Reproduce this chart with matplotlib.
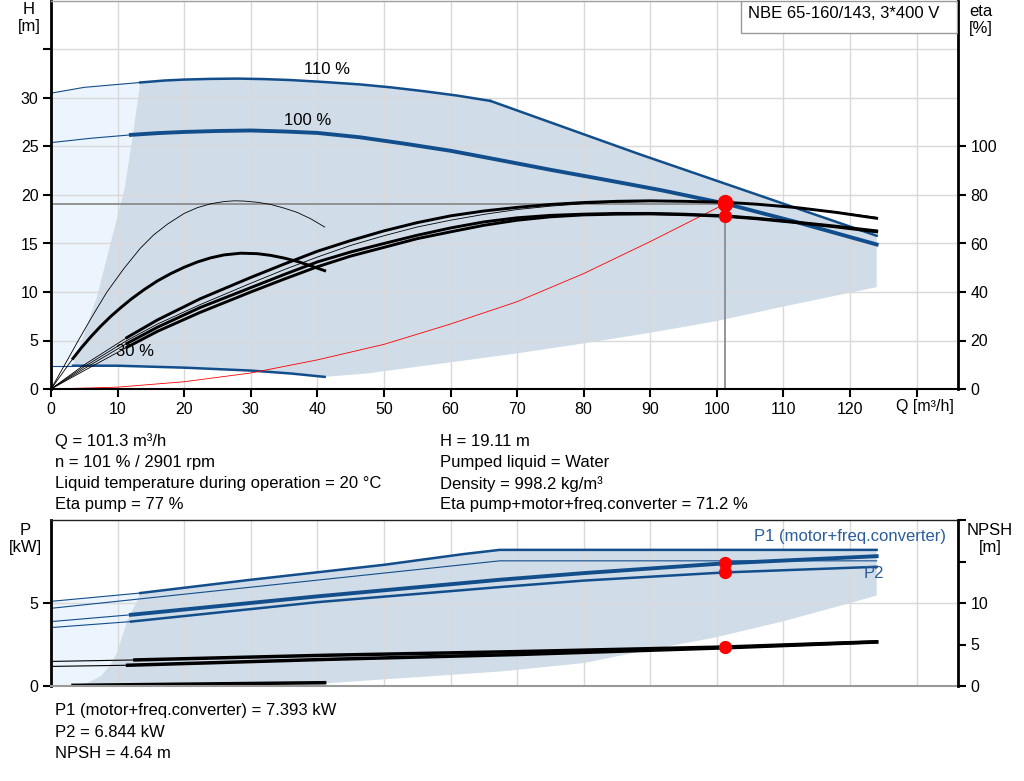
import matplotlib
matplotlib.use("Agg")
import matplotlib.pyplot as plt
import numpy as np
from matplotlib.patches import Rectangle

plt.rcParams["font.family"] = ["Liberation Sans", "DejaVu Sans"]
plt.rcParams["font.size"] = 12

BLUE = "#124e8b"
TXTBLUE = "#2a5d9a"
FILL = "#d0dce8"
LIGHT = "#ecf4fd"
GRID = "#d9d9d9"
RED = "#ff0000"
FS = 12      # info text
TFS = 11.5   # tick labels

# ---- Q/H panel data (Q in m3/h, H in m, eta in %) ----
q110_thin = [0, 5, 13.4]
h110_thin = [30.5, 31.1, 31.6]
q110 = [13.4, 17, 20, 24, 28, 32, 36, 41, 46.4, 51, 56, 61, 66]
h110 = [31.6, 31.8, 31.9, 31.97, 32.0, 31.95, 31.85, 31.65, 31.4, 31.1, 30.7, 30.25, 29.7]
q_lim = [66, 88.4, 124]
h_lim = [29.7, 24.2, 15.8]

q100_thin = [0, 6, 12]
h100_thin = [25.4, 25.85, 26.2]
q100 = [12, 16, 20, 25, 30, 35, 40, 46.4, 53, 60, 67.4, 75, 83, 91.6, 101.3, 112, 124]
h100 = [26.2, 26.38, 26.5, 26.6, 26.65, 26.55, 26.4, 25.95, 25.3, 24.56, 23.6, 22.6,
        21.6, 20.5, 19.11, 17.2, 14.9]

q30_thin = [0, 3.3]
h30_thin = [2.4, 2.4]
q30 = [3.3, 10, 20, 30, 36, 41.1]
h30 = [2.4, 2.4, 2.2, 1.9, 1.6, 1.25]

# edges of the operating area
q_left = [3.3, 6.9, 9.3, 11, 12.1, 13.4]
h_left = [2.4, 9.5, 16, 20.5, 25.3, 31.6]
q_low = [41.1, 47.5, 55, 60, 70, 80, 90, 100, 110, 124]
h_low = [1.25, 1.6, 2.3, 2.75, 3.67, 4.7, 5.8, 7.0, 8.5, 10.5]

# system curve
q_sys = [0, 10, 20, 30, 40, 50, 60, 70, 80, 90, 101.3]
h_sys = [0, 0.19, 0.75, 1.65, 3.0, 4.6, 6.7, 9.0, 11.9, 15.2, 19.11]

# efficiency curves
q_e1 = [0, 1.9, 4.1, 6.2, 8.4, 10.9, 13.4, 15.4, 17.5, 20, 22, 24, 26, 27.5, 29, 31, 33,
        35, 37, 39, 41.1]
eta_e1 = [0, 9.2, 20, 30, 40, 49.5, 58, 63.5, 68, 72.4, 74.8, 76.4, 77.3, 77.6, 77.5,
          77.0, 76.1, 74.6, 72.8, 70.2, 66.8]
q_e2_thin = [0, 3.3]
eta_e2_thin = [0, 12.6]
q_e2 = [3.3, 4.5, 6, 7.5, 9, 10.5, 12.1, 14, 16, 18, 20, 22, 24, 26, 28.5, 31, 33, 35,
        37, 39, 41.1]
eta_e2 = [12.6, 16.8, 21.6, 26, 30, 33.6, 37.2, 41, 44.6, 47.6, 50.2, 52.4, 54.1, 55.3,
          56, 55.8, 55.1, 54, 52.6, 50.8, 48.8]

q_bt = [0, 5, 11.4]
q_bk = [11.4, 16, 22.4, 30, 35, 40, 45, 50, 55, 60, 65, 70, 75, 80, 85, 90, 95, 101.3,
        106, 112, 118, 124]
eta_a_thin = [0, 10, 21.2]
eta_a = [21.2, 28.5, 37.2, 46, 51.5, 56.8, 61.2, 65.2, 68.6, 71.4, 73.4, 74.9, 76.1,
         76.9, 77.4, 77.6, 77.4, 77, 76.2, 74.8, 72.8, 70.4]
q_b = [0, 5, 11.4, 16, 22.4, 30, 35, 40, 45, 50, 55, 60, 65, 70, 75, 80, 85, 90, 95,
       101.3, 106, 112, 118, 124]
eta_b = [0, 9.2, 20, 26.8, 34.8, 43.6, 49.2, 54.4, 59.2, 63.2, 66.8, 69.6, 72.0, 74.0,
         75.4, 76.4, 77.0, 77.3, 77.3, 77.0, 76.3, 74.9, 73.0, 70.8]
eta_c_thin = [0, 8.4, 18.8]
eta_c = [18.8, 25.5, 33.6, 41.8, 47.2, 52.4, 56.5, 60, 63.4, 66.4, 68.9, 70.6, 71.6,
         72.1, 72.4, 72.4, 72.1, 71.4, 70.4, 68.8, 67.1, 65.2]
eta_d_thin = [0, 7.6, 17.2]
eta_d = [17.2, 23.8, 31.6, 40, 45.3, 50.4, 54.8, 58.4, 62, 64.8, 67.5, 69.6, 71, 71.8,
         72.1, 72.2, 71.9, 71.2, 70.2, 68.6, 66.8, 64.8]

Q_OP = 101.3
H_OP = 19.11
ETA_PUMP = 77
ETA_TOTAL = 71.2

# ---- power / NPSH panel data (P in kW, NPSH in m) ----
qp110_thin = [0, 13.4]
p1_110_thin = [5.1, 5.6]
qp110 = [13.4, 30, 50, 62, 67.4, 124]
p1_110 = [5.6, 6.4, 7.3, 7.95, 8.2, 8.2]
qp2_110 = [0, 67.4, 124]
p2_110 = [4.68, 7.54, 7.54]

qp_thin = [0, 12]
p1_100_thin = [3.88, 4.29]
p2_100_thin = [3.52, 3.88]
qp = [12, 40, 67.4, 80, 101.3, 124]
p1_100 = [4.29, 5.4, 6.4, 6.8, 7.393, 7.82]
p2_100 = [3.88, 5.05, 5.96, 6.35, 6.844, 7.18]

qp30 = [0, 41.1]
p_30 = [0.0, 0.22]
qp30k = [3.3, 41.1]
p_30k = [0.04, 0.2]

qn1_thin = [0, 12.6]
npsh1_thin = [2.96, 3.14]
qn2_thin = [0, 11.5]
npsh2_thin = [2.36, 2.5]
qn1 = [12.6, 41, 70.4, 101.3, 124]
npsh1 = [3.14, 3.7, 4.15, 4.7, 5.33]
qn2 = [11.5, 41, 70.4, 101.3, 124]
npsh2 = [2.5, 3.2, 3.8, 4.6, 5.3]

qp_left = [3.3, 5.5, 7.5, 8.8, 9.9, 11.5, 12.9, 13.4]
pp_left = [0.0, 0.2, 0.6, 1.2, 2.0, 4.0, 5.1, 5.6]
qp_low = [124, 119.5, 110, 99.5, 90, 80, 67.4, 50, 41.1, 41.1]
pp_low = [5.45, 4.94, 3.9, 2.9, 2.2, 1.38, 0.87, 0.4, 0.15, 0.0]

P1_OP = 7.393
P2_OP = 6.844
NPSH_OP = 4.64

info_left = ["Q = 101.3 m³/h", "n = 101 % / 2901 rpm",
             "Liquid temperature during operation = 20 °C", "Eta pump = 77 %"]
info_right = ["H = 19.11 m", "Pumped liquid = Water", "Density = 998.2 kg/m³",
              "Eta pump+motor+freq.converter = 71.2 %"]
info_bottom = ["P1 (motor+freq.converter) = 7.393 kW", "P2 = 6.844 kW", "NPSH = 4.64 m"]

W, H = 1024, 781


def fx(px):
    return px / W


def fy(py):
    return 1 - py / H


fig = plt.figure(figsize=(W / 100, H / 100), dpi=100)
XMAX = (958 - 51) / (799 / 120)

# ================= top panel =================
ax = fig.add_axes([fx(51), fy(389), fx(958) - fx(51), fy(1) - fy(389)])
ax.set_xlim(0, XMAX)
ax.set_ylim(0, 40)
ax.set_axisbelow(True)
ax.grid(True, color=GRID, lw=1)

light_x = q110_thin + q_left[::-1] + q30_thin[::-1]
light_y = h110_thin + h_left[::-1] + h30_thin[::-1]
ax.fill(light_x, light_y, color=LIGHT, lw=0, zorder=0.3)
dark_x = q_left + q110 + q_lim + [124] + q_low[::-1] + q30[::-1]
dark_y = h_left + h110 + h_lim + [10.5] + h_low[::-1] + h30[::-1]
ax.fill(dark_x, dark_y, color=FILL, lw=0, zorder=0.3)

ax.plot(q110_thin, h110_thin, color=BLUE, lw=0.8)
ax.plot(q110, h110, color=BLUE, lw=1.8)
ax.plot(q_lim, h_lim, color=BLUE, lw=1.8)
ax.plot(q100_thin, h100_thin, color=BLUE, lw=0.8)
ax.plot(q100, h100, color=BLUE, lw=2.8)
ax.plot(q30_thin, h30_thin, color=BLUE, lw=0.8)
ax.plot(q30, h30, color=BLUE, lw=1.8)
ax.plot(q_sys, h_sys, color=RED, lw=0.6)

ax.plot([0, Q_OP], [H_OP, H_OP], color="#8c8c8c", lw=1.3)
ax.plot([Q_OP, Q_OP], [0, H_OP], color="#8c8c8c", lw=1.3)

ax.text(41.5, 32.9, "110 %", ha="center", va="center", fontsize=FS)
ax.text(38.5, 27.7, "100 %", ha="center", va="center", fontsize=FS)
ax.text(12.6, 3.9, "30 %", ha="center", va="center", fontsize=FS)

ax.set_xticks(np.arange(0, 140, 10))
ax.set_xticklabels([str(v) for v in range(0, 130, 10)] + [""])
ax.set_yticks(np.arange(0, 40, 5))
ax.set_yticklabels([str(v) for v in range(0, 35, 5)] + [""])
ax.tick_params(direction="out", length=6, width=1.5, colors="black", labelsize=TFS, pad=3)
ax.text(131.3, -1.85, "Q [m³/h]", ha="center", va="center", fontsize=TFS)

ax.spines["left"].set_color("black")
ax.spines["bottom"].set_color("black")
ax.spines["left"].set_linewidth(2)
ax.spines["bottom"].set_linewidth(1.5)
ax.spines["right"].set_visible(False)
ax.spines["top"].set_color("#a0a0a0")
ax.spines["top"].set_linewidth(1)

ax.plot([Q_OP], [H_OP], "o", color=RED, ms=10, zorder=5)

ax_eta = ax.twinx()
ax_eta.set_ylim(0, 160)
ax_eta.plot(q_e1, eta_e1, color="black", lw=0.6)
ax_eta.plot(q_e2_thin, eta_e2_thin, color="black", lw=0.6)
ax_eta.plot(q_e2, eta_e2, color="black", lw=2.1)
ax_eta.plot(q_bt, eta_a_thin, color="black", lw=0.6)
ax_eta.plot(q_bk, eta_a, color="black", lw=2.1)
ax_eta.plot(q_b, eta_b, color="black", lw=0.6)
ax_eta.plot(q_bt, eta_c_thin, color="black", lw=0.6)
ax_eta.plot(q_bk, eta_c, color="black", lw=2.1)
ax_eta.plot(q_bt, eta_d_thin, color="black", lw=0.6)
ax_eta.plot(q_bk, eta_d, color="black", lw=2.1)
ax_eta.plot([Q_OP], [ETA_PUMP], "o", color=RED, ms=10, zorder=5)
ax_eta.plot([Q_OP], [ETA_TOTAL], "o", color=RED, ms=8.5, zorder=5)
ax_eta.set_yticks(np.arange(0, 120, 20))
ax_eta.tick_params(direction="out", length=6, width=1.5, labelsize=TFS, pad=3)
ax_eta.spines["right"].set_linewidth(2)
ax_eta.spines["right"].set_color("black")
for side in ["left", "top", "bottom"]:
    ax_eta.spines[side].set_visible(False)

ax_eta.add_patch(Rectangle((fx(741), fy(33)), fx(957) - fx(741), fy(1) - fy(33),
                           transform=fig.transFigure, facecolor="white",
                           edgecolor="#999999", lw=1, zorder=6))
fig.text(fx(748), fy(14), "NBE 65-160/143, 3*400 V", ha="left", va="center", fontsize=FS, zorder=7)

fig.text(fx(29), fy(18), "H\n[m]", ha="center", va="center", fontsize=FS, linespacing=1.15)
fig.text(fx(981), fy(20), "eta\n[%]", ha="center", va="center", fontsize=FS, linespacing=1.15)

for i, s in enumerate(info_left):
    fig.text(fx(55), fy(441 + 21.3 * i), s, ha="left", va="center", fontsize=FS)
for i, s in enumerate(info_right):
    fig.text(fx(440), fy(441 + 21.3 * i), s, ha="left", va="center", fontsize=FS)

# ================= bottom panel =================
bx = fig.add_axes([fx(51), fy(686), fx(958) - fx(51), fy(520) - fy(686)])
bx.set_xlim(0, XMAX)
bx.set_ylim(0, 10)
bx.set_axisbelow(True)
bx.grid(True, color=GRID, lw=1)

lx = [0] + qp110_thin + qp_left[::-1]
ly = [0] + p1_110_thin + pp_left[::-1]
bx.fill(lx, ly, color=LIGHT, lw=0, zorder=0.3)
dx = qp_left + qp110 + qp_low
dy = pp_left + p1_110 + pp_low
bx.fill(dx, dy, color=FILL, lw=0, zorder=0.3)

bx.plot(qp110_thin, p1_110_thin, color=BLUE, lw=0.8)
bx.plot(qp110, p1_110, color=BLUE, lw=1.8)
bx.plot(qp2_110, p2_110, color=BLUE, lw=0.8)
bx.plot(qp_thin, p1_100_thin, color=BLUE, lw=0.8)
bx.plot(qp, p1_100, color=BLUE, lw=2.8)
bx.plot(qp_thin, p2_100_thin, color=BLUE, lw=0.8)
bx.plot(qp, p2_100, color=BLUE, lw=1.8)
bx.plot(qp30, p_30, color=BLUE, lw=0.8)
bx.plot(qp30k, p_30k, color="black", lw=2.5)
bx.plot([Q_OP], [P1_OP], "o", color=RED, ms=8.5, zorder=5)
bx.plot([Q_OP], [P2_OP], "o", color=RED, ms=8.5, zorder=5)

bx.set_xticks(np.arange(0, 140, 10))
bx.set_xticklabels([])
bx.tick_params(axis="x", length=0)
bx.set_yticks([0, 5])
bx.tick_params(axis="y", direction="out", length=6, width=1.5, labelsize=TFS, pad=3)
bx.spines["left"].set_linewidth(2)
bx.spines["left"].set_color("black")
bx.spines["right"].set_visible(False)
bx.spines["top"].set_color("#222222")
bx.spines["top"].set_linewidth(1)
bx.spines["bottom"].set_color("#999999")
bx.spines["bottom"].set_linewidth(1.5)

fig.text(fx(946), fy(537), "P1 (motor+freq.converter)", color=TXTBLUE, fontsize=FS,
         ha="right", va="center")
fig.text(fx(874), fy(573), "P2", color=TXTBLUE, fontsize=FS, ha="center", va="center")

bn = bx.twinx()
bn.set_ylim(0, 20)
bn.plot(qn1_thin, npsh1_thin, color="black", lw=0.8)
bn.plot(qn2_thin, npsh2_thin, color="black", lw=0.8)
bn.plot(qn1, npsh1, color="black", lw=2.5)
bn.plot(qn2, npsh2, color="black", lw=2.5)
bn.plot([Q_OP], [NPSH_OP], "o", color=RED, ms=8.5, zorder=5)
bn.set_yticks([0, 5, 10, 15, 20])
bn.set_yticklabels(["0", "5", "10", "", ""])
bn.tick_params(direction="out", length=6, width=1.5, labelsize=TFS, pad=3)
bn.spines["right"].set_linewidth(2)
bn.spines["right"].set_color("black")
for side in ["left", "top", "bottom"]:
    bn.spines[side].set_visible(False)

fig.text(fx(25), fy(539), "P\n[kW]", ha="center", va="center", fontsize=FS, linespacing=1.15)
fig.text(fx(990), fy(539), "NPSH\n[m]", ha="center", va="center", fontsize=FS, linespacing=1.15)

for i, s in enumerate(info_bottom):
    fig.text(fx(55), fy(711 + 21.3 * i), s, ha="left", va="center", fontsize=FS)

fig.savefig("out.png", dpi=100)
